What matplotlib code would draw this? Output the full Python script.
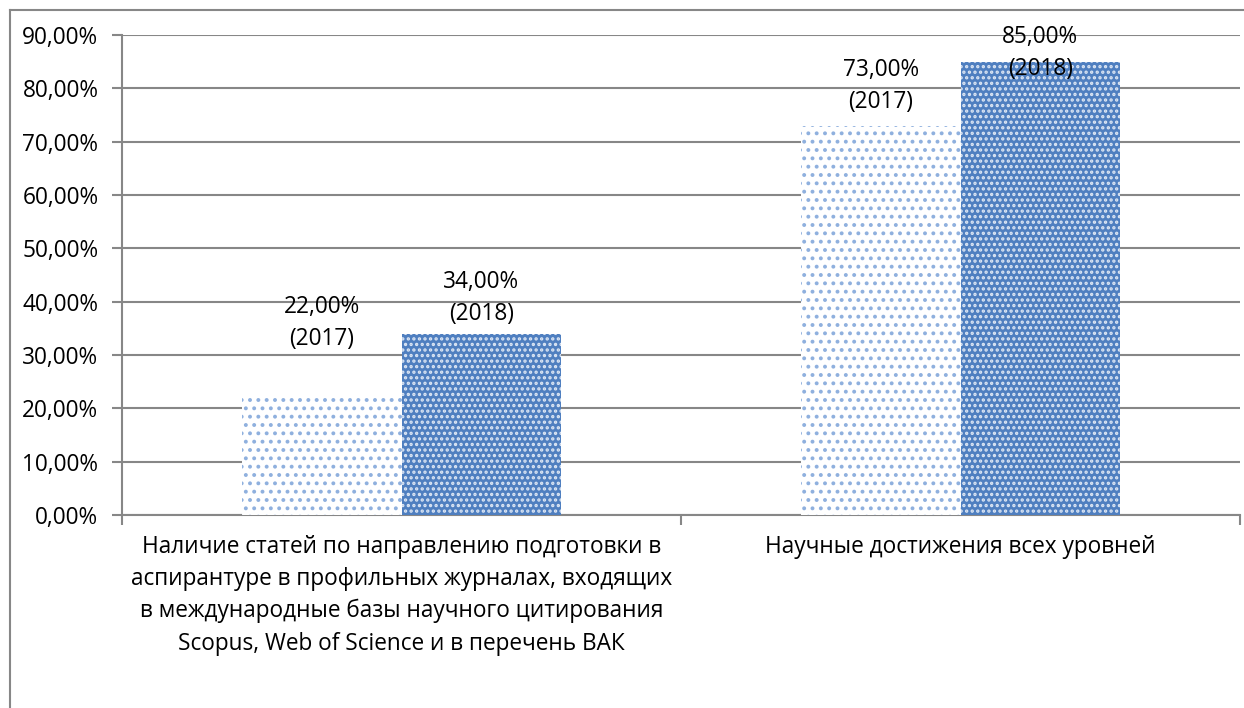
import matplotlib
matplotlib.use("Agg")
import matplotlib.pyplot as plt
from matplotlib.lines import Line2D
import numpy as np

categories = [
    "Наличие статей по направлению подготовки в\nаспирантуре в профильных журналах, входящих\nв международные базы научного цитирования\nScopus, Web of Science и в перечень ВАК",
    "Научные достижения всех уровней",
]
values_2017 = [22.0, 73.0]
values_2018 = [34.0, 85.0]
series_years = ["2017", "2018"]
yticks = [0, 10, 20, 30, 40, 50, 60, 70, 80, 90]

plt.rcParams['font.family'] = ['Open Sans', 'DejaVu Sans']
plt.rcParams['hatch.linewidth'] = 1.6

W, H = 1244, 708
fig = plt.figure(figsize=(W / 100, H / 100), dpi=100)
ax = fig.add_axes([122 / W, 1 - 515 / H, (1240 - 122) / W, (515 - 35) / H])

grey = "#878787"
fs = 16.3
x = np.arange(len(categories))
bw = 0.286

b1 = ax.bar(x - bw / 2, values_2017, bw, color="white", edgecolor="#8FB0DE",
            hatch="..", linewidth=0, zorder=3)
b2 = ax.bar(x + bw / 2, values_2018, bw, color="#4F7FC0", edgecolor="#DCE6F4",
            hatch="...", linewidth=0, zorder=3)

ax.set_xlim(-0.5, len(categories) - 0.5)
ax.set_ylim(0, 90)
ax.set_yticks(yticks)
ax.set_yticklabels([f"{v:.2f}".replace(".", ",") + "%" for v in yticks])
ax.yaxis.grid(True, color=grey, linewidth=1.5, zorder=0)
ax.set_axisbelow(True)

ax.set_xticks([-0.5, 0.5, 1.5])
ax.set_xticklabels([])
ax.tick_params(axis="x", length=7, width=1.5, color=grey, direction="out")
ax.tick_params(axis="y", length=7, width=1.5, color=grey, direction="out",
               labelsize=fs, pad=10)
for sp in ["top", "right"]:
    ax.spines[sp].set_visible(False)
for sp in ["left", "bottom"]:
    ax.spines[sp].set_color(grey)
    ax.spines[sp].set_linewidth(1.5)

for i, cat in enumerate(categories):
    ax.text(x[i], -3.7, cat, ha="center", va="top", fontsize=fs,
            linespacing=1.45, transform=ax.transData)

# data labels (offsets in points above bar top)
offsets_2017 = [53.5, 28.5]
offsets_2018 = [25.5, 6.5]
for bars, vals, offs, yr in [(b1, values_2017, offsets_2017, series_years[0]),
                             (b2, values_2018, offsets_2018, series_years[1])]:
    for bar, v, o in zip(bars, vals, offs):
        ax.annotate(f"{v:.2f}".replace(".", ",") + f"%\n({yr})",
                    (bar.get_x() + bar.get_width() / 2, v),
                    xytext=(0, o), textcoords="offset points",
                    ha="center", va="center", fontsize=fs, linespacing=1.45,
                    zorder=5, annotation_clip=False)

# figure border (top and left visible)
fig.add_artist(Line2D([10 / W, 10 / W], [0, 1 - 10 / H], color=grey, lw=1.5,
                      transform=fig.transFigure))
fig.add_artist(Line2D([10 / W, 1], [1 - 10 / H, 1 - 10 / H], color=grey, lw=1.5,
                      transform=fig.transFigure))

fig.savefig("out.png", dpi=100)
